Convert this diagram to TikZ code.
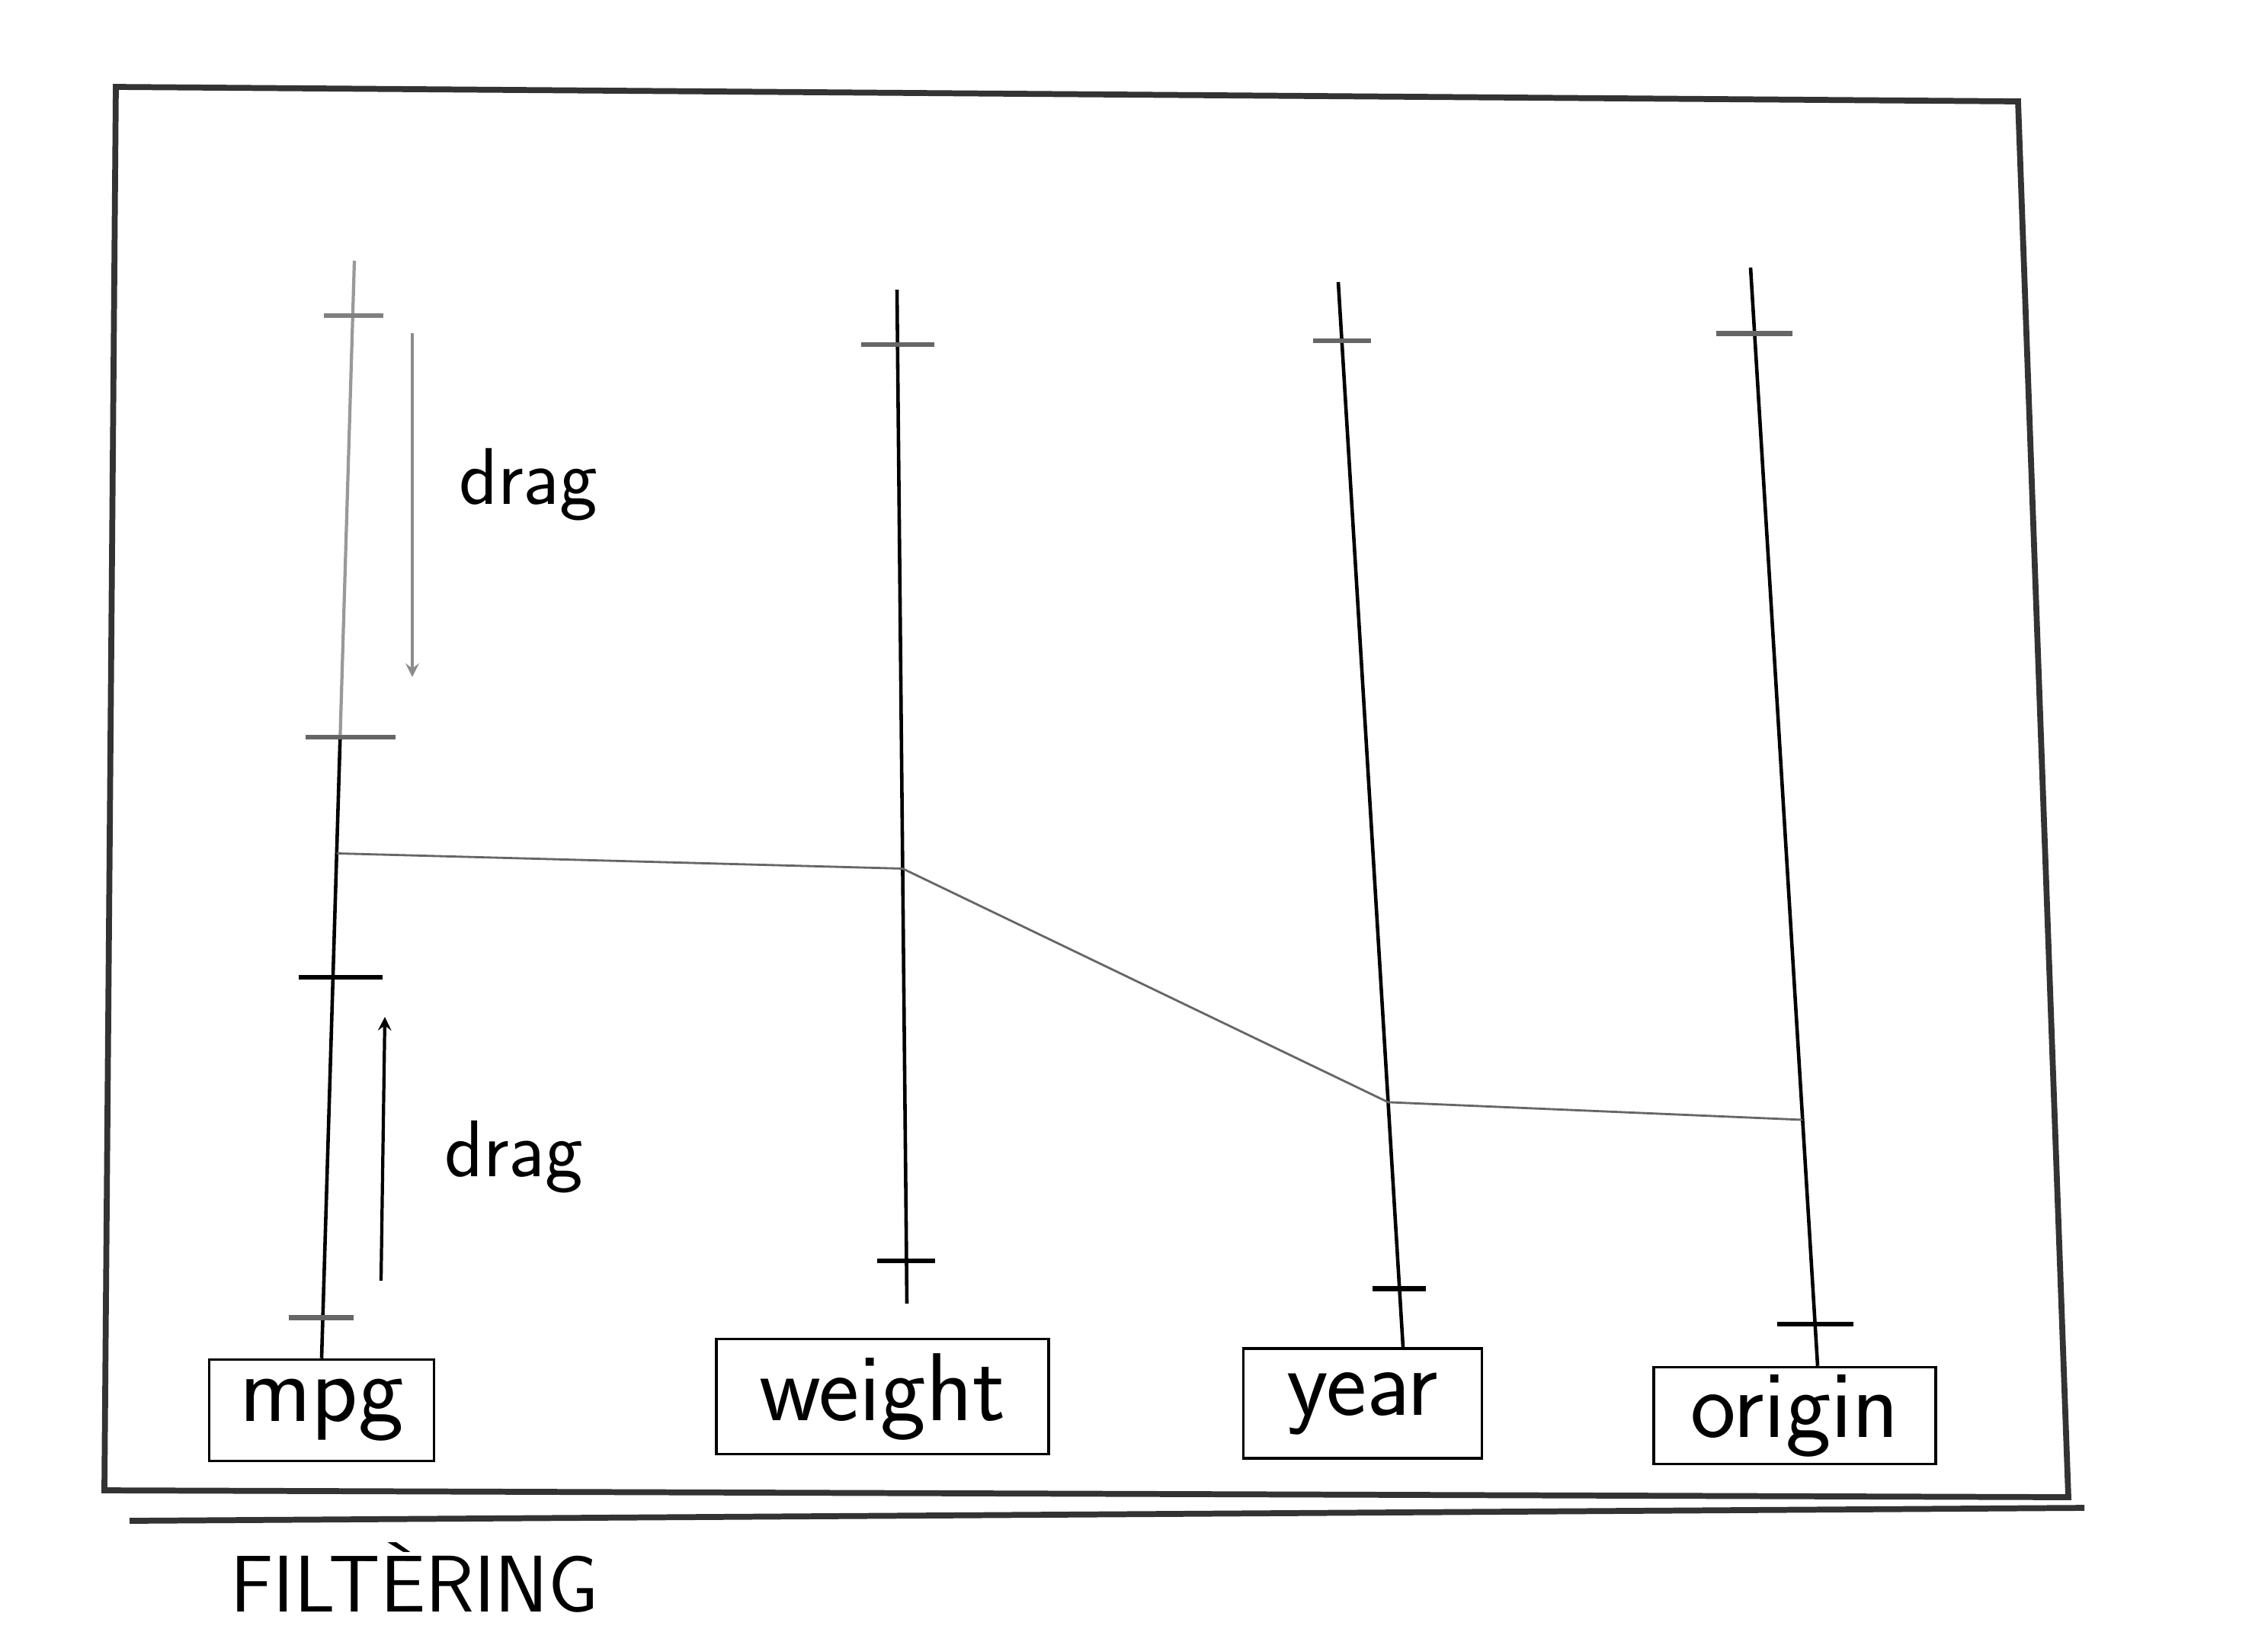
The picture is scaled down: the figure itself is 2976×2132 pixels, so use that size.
\documentclass[tikz,border=0pt]{standalone}
\usetikzlibrary{arrows,positioning,calc}

\begin{document}
\begin{tikzpicture}[
    x=0.01cm,y=-0.01cm,
    frame/.style={line width=2.2pt,black!80},
    axisline/.style={line width=1.3pt},
    faintline/.style={line width=1.2pt,black!40},
    tickmark/.style={line width=1.8pt},
    axislabel/.style={draw,line width=1pt,inner sep=2pt,font=\sffamily\fontsize{36}{38}\selectfont},
    polyline/.style={line width=0.8pt,black!60},
    arrow/.style={line width=1.2pt,->,>=stealth},
    note/.style={font=\sffamily\fontsize{30}{32}\selectfont}
]
    \useasboundingbox (0,0) rectangle (2976,2132);

    \draw[frame] (152,114) -- (2648,133) -- (2714,1964) -- (137,1955) -- cycle;
    \draw[frame] (170,1995) -- (2735,1978);

    \node[axislabel,minimum width=2.95cm,minimum height=1.33cm] (mpg) at (422,1850) {mpg};
    \node[axislabel,minimum width=4.36cm,minimum height=1.51cm] (weight) at (1158,1832) {weight};
    \node[axislabel,minimum width=3.13cm,minimum height=1.44cm] (year) at (1788,1841) {year};
    \node[axislabel,minimum width=3.70cm,minimum height=1.27cm] (origin) at (2355,1857) {origin};

    \coordinate (mpgtop) at (465,342);
    \coordinate (weighttop) at (1177,380);
    \coordinate (weightbot) at (1190,1710);
    \coordinate (yeartop) at (1756,370);
    \coordinate (yearbot) at ($(year.north)+(53,0)$);
    \coordinate (origintop) at (2297,351);
    \coordinate (originbot) at ($(origin.north)+(30,0)$);

    \coordinate (mpghi) at ($(mpgtop)!0.434!(mpg.north)$);
    \coordinate (mpglo) at ($(mpgtop)!0.653!(mpg.north)$);
    \draw[faintline] (mpgtop) -- (mpghi);
    \draw[axisline] (mpghi) -- (mpg.north);
    \draw[axisline] (weighttop) -- (weightbot);
    \draw[axisline] (yeartop) -- (yearbot);
    \draw[axisline] (origintop) -- (originbot);

    \draw[tickmark,black!50] ($(mpgtop)!0.05!(mpg.north)$) +(-38,0) -- +(40,0);
    \draw[tickmark,black!60] (mpghi) +(-45,0) -- +(73,0);
    \draw[tickmark] (mpglo) +(-45,0) -- +(65,0);
    \draw[tickmark,black!60] ($(mpgtop)!0.963!(mpg.north)$) +(-45,0) -- +(40,0);
    \draw[tickmark,black!60] ($(weighttop)!0.054!(weightbot)$) +(-48,0) -- +(48,0);
    \draw[tickmark] ($(weighttop)!0.958!(weightbot)$) +(-38,0) -- +(38,0);
    \draw[tickmark,black!60] ($(yeartop)!0.055!(yearbot)$) +(-38,0) -- +(38,0);
    \draw[tickmark] ($(yeartop)!0.945!(yearbot)$) +(-35,0) -- +(35,0);
    \draw[tickmark,black!60] ($(origintop)!0.06!(originbot)$) +(-50,0) -- +(50,0);
    \draw[tickmark] ($(origintop)!0.962!(originbot)$) +(-50,0) -- +(50,0);

    \coordinate (mpgsel) at ($(mpgtop)!0.54!(mpg.north)$);
    \coordinate (weightsel) at ($(weighttop)!0.571!(weightbot)$);
    \coordinate (yearsel) at ($(yeartop)!0.77!(yearbot)$);
    \coordinate (originsel) at ($(origintop)!0.776!(originbot)$);
    \draw[polyline] (mpgsel) -- (weightsel) -- (yearsel) -- (originsel);

    \coordinate (dragonefrom) at (541,437);
    \coordinate (dragoneto) at (541,888);
    \coordinate (dragtwofrom) at (500,1680);
    \coordinate (dragtwoto) at (505,1334);
    \draw[arrow,black!45] (dragonefrom) -- (dragoneto);
    \draw[arrow] (dragtwofrom) -- (dragtwoto);
    \node[note] (dragone) at (693,636) {drag};
    \node[note] (dragtwo) at (674,1518) {drag};

    \node[note,anchor=west] (title) at (290,2069) {FILT\`ERING};
\end{tikzpicture}
\end{document}
